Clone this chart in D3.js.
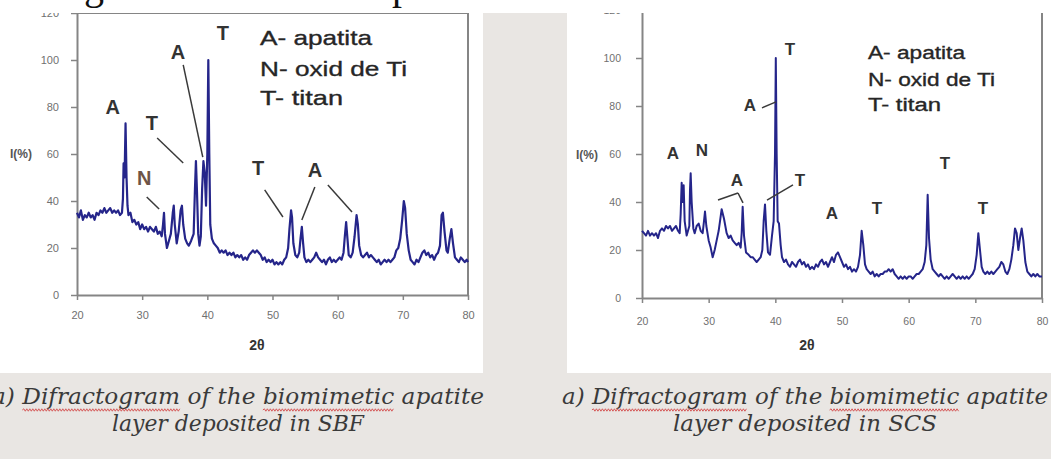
<!DOCTYPE html>
<html><head><meta charset="utf-8">
<script src="https://cdn.jsdelivr.net/npm/d3@7"></script>
<style>
body{margin:0;background:#e9e6e3;overflow:hidden}
svg{display:block}
</style></head>
<body><svg id="c" width="1051" height="459"></svg>
<script>
// ---------------- data ----------------
const xTicks = [20, 30, 40, 50, 60, 70, 80];
const yTicks = [0, 20, 40, 60, 80, 100, 120];
const legendLines = ["A- apatita", "N- oxid de Ti", "T- titan"];
const axisTitleX = "2θ";
const axisTitleY = "I(%)";

// [2θ, I(%)] – SBF sample
const sbfPoints = [
[20.0,35],[20.3,33],[20.6,36],[20.9,32],[21.2,34],[21.5,33],[21.8,35],[22.1,33],[22.4,34],[22.7,32],
[23.0,35],[23.3,34],[23.6,36],[23.9,35],[24.2,37],[24.5,35],[24.8,36],[25.1,37],[25.4,35],[25.7,36],
[26.0,35],[26.3,36],[26.6,34],[26.9,35],[27.05,41],[27.15,56],[27.3,50],[27.45,73],[27.6,50],[27.75,38],
[27.9,34],[28.2,35],[28.5,31],[28.8,32],[29.1,30],[29.4,31],[29.7,28],[30.0,30],[30.3,28],[30.6,29],
[30.9,27],[31.2,29],[31.5,28],[31.8,27],[32.1,29],[32.4,26],[32.7,27],[33.0,25],[33.2,30],[33.35,35],
[33.5,26],[33.8,20],[34.1,23],[34.4,26],[34.7,35],[34.85,38],[35.0,30],[35.3,22],[35.6,27],[35.9,36],
[36.1,38],[36.3,30],[36.6,24],[36.9,22],[37.15,21],[37.5,23],[37.9,26],[38.1,45],[38.25,57],[38.4,45],
[38.6,26],[38.8,21],[39.0,25],[39.2,45],[39.4,57],[39.6,52],[39.8,38],[40.0,60],[40.15,100],[40.3,60],
[40.45,30],[40.7,24],[41.0,22],[41.3,21],[41.6,20],[41.9,18],[42.2,19],[42.5,18],[42.8,19],[43.1,17],
[43.4,18],[43.7,17],[44.0,18],[44.3,16],[44.6,17],[44.9,16],[45.2,17],[45.5,15],[45.8,16],[46.1,15],
[46.4,17],[46.7,18],[47.0,19],[47.3,18],[47.6,19],[47.9,18],[48.2,17],[48.5,15],[48.8,16],[49.1,14],
[49.4,15],[49.7,14],[50.0,15],[50.3,13],[50.6,14],[50.9,13],[51.2,14],[51.5,13],[51.8,15],[52.1,16],
[52.4,20],[52.6,28],[52.85,36],[53.0,33],[53.2,22],[53.5,17],[53.8,16],[54.1,18],[54.3,24],[54.5,29],
[54.7,22],[54.9,16],[55.2,14],[55.5,15],[55.8,14],[56.1,15],[56.4,16],[56.7,18],[57.0,16],[57.3,15],
[57.6,14],[57.9,15],[58.2,13],[58.5,15],[58.8,16],[59.1,14],[59.4,15],[59.7,14],[60.0,15],[60.3,16],
[60.6,15],[60.9,18],[61.1,25],[61.3,31],[61.5,24],[61.7,17],[62.0,16],[62.3,18],[62.6,25],[62.9,34],
[63.1,30],[63.3,21],[63.6,17],[63.9,16],[64.2,17],[64.5,18],[64.8,16],[65.1,17],[65.4,16],[65.7,15],
[66.0,14],[66.3,15],[66.6,13],[66.9,14],[67.2,15],[67.5,14],[67.8,15],[68.1,14],[68.4,15],[68.7,16],
[69.0,19],[69.3,20],[69.6,24],[69.9,32],[70.15,40],[70.35,37],[70.6,26],[70.9,19],[71.2,15],[71.5,14],
[71.8,13],[72.1,15],[72.4,14],[72.7,16],[73.0,18],[73.3,19],[73.6,17],[73.9,18],[74.2,16],[74.5,17],
[74.8,15],[75.1,17],[75.4,18],[75.7,21],[75.95,34],[76.15,35],[76.4,27],[76.7,19],[76.9,18],[77.2,24],
[77.45,28],[77.7,22],[78.0,16],[78.3,15],[78.6,14],[78.9,16],[79.2,15],[79.5,14],[79.8,15],[80.0,14]
];

// [2θ, I(%)] – SCS sample
const scsPoints = [
[20.0,28],[20.3,27],[20.6,26],[20.9,28],[21.2,26],[21.5,27],[21.8,26],[22.1,27],[22.4,25],[22.7,28],
[23.0,29],[23.3,28],[23.6,30],[23.9,29],[24.2,30],[24.5,28],[24.8,29],[25.1,30],[25.4,28],[25.65,27],
[25.8,35],[25.95,48],[26.1,40],[26.25,47],[26.4,32],[26.7,26],[26.9,28],[27.1,30],[27.2,45],[27.3,52],
[27.45,40],[27.7,29],[27.9,27],[28.2,30],[28.5,31],[28.8,28],[29.1,27],[29.3,32],[29.45,36],[29.65,30],
[30.0,24],[30.3,21],[30.6,17],[30.9,20],[31.2,24],[31.5,28],[31.75,33],[31.95,37],[32.3,33],[32.7,27],
[33.0,25],[33.3,26],[33.6,24],[33.9,23],[34.2,22],[34.5,23],[34.8,21],[34.95,27],[35.1,38],[35.3,26],
[35.6,19],[36.0,18],[36.3,17],[36.6,17],[36.9,16],[37.2,15],[37.5,16],[37.8,17],[38.05,20],[38.25,32],
[38.45,39],[38.65,28],[38.9,19],[39.2,18],[39.5,26],[39.75,32],[39.95,60],[40.07,100],[40.2,60],[40.35,32],
[40.55,31],[40.8,22],[41.0,17],[41.3,15],[41.6,16],[41.9,14],[42.2,13],[42.5,15],[42.8,14],[43.1,13],
[43.4,15],[43.7,16],[44.0,14],[44.3,15],[44.6,13],[44.9,14],[45.2,12],[45.5,13],[45.8,12],[46.1,14],
[46.4,13],[46.7,15],[47.0,16],[47.3,14],[47.6,15],[47.9,13],[48.2,15],[48.5,17],[48.8,15],[49.1,18],
[49.4,19],[49.7,17],[50.0,15],[50.3,13],[50.6,14],[50.9,12],[51.2,13],[51.5,11],[51.8,12],[52.1,11],
[52.4,13],[52.7,18],[52.95,28],[53.2,22],[53.45,14],[53.7,12],[54.0,11],[54.3,10],[54.6,11],[54.9,9],
[55.2,10],[55.5,9],[55.8,10],[56.1,10],[56.4,11],[56.7,11],[57.0,12],[57.3,11],[57.6,12],[57.9,10],
[58.2,9],[58.5,8],[58.8,9],[59.1,8],[59.4,9],[59.7,8],[60.0,9],[60.3,9],[60.6,8],[60.9,9],
[61.2,10],[61.5,10],[61.8,11],[62.1,12],[62.4,15],[62.65,22],[62.85,43],[63.05,25],[63.3,16],[63.6,12],
[63.9,11],[64.2,10],[64.5,9],[64.8,10],[65.1,9],[65.4,8],[65.7,9],[66.0,8],[66.3,9],[66.6,10],
[66.9,9],[67.2,8],[67.5,9],[67.8,8],[68.1,9],[68.4,8],[68.7,9],[69.0,8],[69.3,9],[69.6,10],
[69.9,12],[70.2,18],[70.45,27],[70.7,20],[70.95,13],[71.2,11],[71.5,10],[71.8,11],[72.1,10],[72.4,11],
[72.7,10],[73.0,11],[73.3,12],[73.6,13],[73.9,15],[74.2,14],[74.5,11],[74.8,10],[75.1,12],[75.4,16],
[75.7,22],[75.95,29],[76.2,27],[76.45,20],[76.7,25],[76.95,29],[77.2,24],[77.5,15],[77.8,11],[78.1,10],
[78.4,9],[78.7,10],[79.0,9],[79.3,10],[79.6,9],[80.0,9]
];

// peak labels: [text, 2θ, I]
const sbfLabels = [["A",25.5,80],["N",30.3,49.8],["T",31.5,73.2],["A",35.5,103.4],["T",42.4,111.5],["T",47.8,54],["A",56.5,53.2]];
const scsLabels = [["T",42.2,103.75],["A",36.2,80.4],["A",24.65,60.4],["N",29.0,61.7],["A",34.25,49.2],["T",43.7,49.2],["A",48.5,35.4],["T",55.25,37.5],["T",65.45,56.25],["T",71.15,37.5]];
// leader lines: [2θ1, I1, 2θ2, I2]
const sbfLeaders = [[32.3,66.8,36.3,56.2],[30.7,41.7,32.6,36.6],[36.3,97.9,39.3,58.7],[48.8,44.7,51.6,33.2],[56.5,46,54.5,31.9],[58.5,46.8,62.2,35.3]];
const scsLeaders = [[38.0,79.2,40.1,81.7],[34.4,43.75,31.4,40.8],[34.4,43.75,35.15,39.6],[42.65,47.1,38.75,40.8]];

const sbfCaption = ["a) Difractogram of the biomimetic apatite", "layer deposited in SBF"];
const scsCaption = ["a) Difractogram of the biomimetic apatite", "layer deposited in SCS"];
const flaggedWords = ["Difractogram", "biomimetic"];
const headerFragments = [["g", 84], ["p", 392]];

// ---------------- drawing ----------------
const svg = d3.select("#c");
svg.append("rect").attr("x",0).attr("y",0).attr("width",1051).attr("height",459).attr("fill","#e9e6e3");
svg.append("rect").attr("x",0).attr("y",0).attr("width",1051).attr("height",13).attr("fill","#ffffff");
svg.selectAll("text.hdr").data(headerFragments).join("text")
  .attr("class","hdr").attr("x",d=>d[1]).attr("y",-1)
  .attr("font-family","'Liberation Serif', serif").attr("font-size",40).attr("fill","#111")
  .text(d=>d[0]);

const panels = [
  {pts:sbfPoints, labels:sbfLabels, leaders:sbfLeaders, caption:sbfCaption,
   box:[0,13,483,360], xr:[77,468], yr:[295,13], tickFont:11, xPad:11, yPad:12,
   ytX:32, ytY:154, ytFont:12, xtX:257, xtY:345,
   legX:260, legY:[37,68,97], legFont:21, legLen:[112,147,83], labFont:20,
   capCx:238, capLen:[492,252], lineW:2.2},
  {pts:scsPoints, labels:scsLabels, leaders:scsLeaders, caption:scsCaption,
   box:[567,13,484,360], xr:[642,1042], yr:[298,10], tickFont:10.5, xPad:15, yPad:15,
   ytX:598, ytY:155, ytFont:12, xtX:807, xtY:345,
   legX:868, legY:[53,80,105], legFont:18, legLen:[97,127,73], labFont:17,
   capCx:805, capLen:[486,264], lineW:2}
];

panels.forEach((p,i)=>{
  const [bx,by,bw,bh] = p.box;
  svg.append("defs").append("clipPath").attr("id","clip"+i)
    .append("rect").attr("x",bx).attr("y",by).attr("width",bw).attr("height",bh);
  svg.append("rect").attr("x",bx).attr("y",by).attr("width",bw).attr("height",bh).attr("fill","#ffffff");
  const g = svg.append("g").attr("clip-path",`url(#clip${i})`);
  const x = d3.scaleLinear().domain([20,80]).range(p.xr);
  const y = d3.scaleLinear().domain([0,120]).range(p.yr);

  const ax = g.append("g").attr("transform",`translate(0,${y(0)})`)
    .call(d3.axisBottom(x).tickValues(xTicks).tickSize(5).tickSizeOuter(0).tickPadding(p.xPad));
  const ay = g.append("g").attr("transform",`translate(${x(20)},0)`)
    .call(d3.axisLeft(y).tickValues(yTicks).tickSize(6).tickSizeOuter(0).tickPadding(p.yPad));
  [ax,ay].forEach(a=>{
    a.select(".domain").attr("stroke","#858585").attr("stroke-width",2);
    a.selectAll(".tick line").attr("stroke","#858585").attr("stroke-width",1.5);
    a.selectAll(".tick text").attr("fill","#707070").attr("font-size",p.tickFont)
      .attr("font-family","'Liberation Sans', Arial, sans-serif");
  });
  // frame right & top
  g.append("line").attr("x1",x(80)).attr("x2",x(80)).attr("y1",y(0)).attr("y2",y(120))
    .attr("stroke","#858585").attr("stroke-width",2);
  g.append("line").attr("x1",x(20)).attr("x2",x(80)).attr("y1",y(120)).attr("y2",y(120))
    .attr("stroke","#858585").attr("stroke-width",2);

  // data line
  g.append("path").datum(p.pts)
    .attr("d", d3.line().x(d=>x(d[0])).y(d=>y(d[1])))
    .attr("fill","none").attr("stroke","#25258a").attr("stroke-width",p.lineW)
    .attr("stroke-linejoin","round");

  // leaders
  g.selectAll("line.ld").data(p.leaders).join("line").attr("class","ld")
    .attr("x1",d=>x(d[0])).attr("y1",d=>y(d[1])).attr("x2",d=>x(d[2])).attr("y2",d=>y(d[3]))
    .attr("stroke","#3a3a3a").attr("stroke-width",1.5);

  // peak labels
  g.selectAll("text.pk").data(p.labels).join("text").attr("class","pk")
    .attr("x",d=>x(d[1])).attr("y",d=>y(d[2])).attr("dy","0.36em")
    .attr("text-anchor","middle").attr("font-family","'Liberation Sans', Arial, sans-serif")
    .attr("font-weight","bold").attr("font-size",p.labFont)
    .attr("fill",d=>(i===0 && d[0]==="N") ? "#6e5446" : "#333333")
    .text(d=>d[0]);

  // legend
  g.selectAll("text.lg").data(legendLines).join("text").attr("class","lg")
    .attr("x",p.legX).attr("y",(d,k)=>p.legY[k]).attr("dy","0.36em")
    .attr("font-family","'Liberation Sans', Arial, sans-serif").attr("font-size",p.legFont)
    .attr("fill","#262626").attr("stroke","#262626").attr("stroke-width",0.35)
    .attr("textLength",(d,k)=>p.legLen[k]).attr("lengthAdjust","spacingAndGlyphs")
    .text(d=>d);

  // axis titles
  g.append("text").attr("x",p.ytX).attr("y",p.ytY).attr("dy","0.36em").attr("text-anchor","end")
    .attr("font-family","'Liberation Sans', Arial, sans-serif").attr("font-weight","bold")
    .attr("font-size",p.ytFont).attr("fill","#555").text(axisTitleY);
  g.append("text").attr("x",p.xtX).attr("y",p.xtY).attr("dy","0.36em").attr("text-anchor","middle")
    .attr("font-family","'Liberation Sans', Arial, sans-serif").attr("font-weight","bold")
    .attr("font-size",14).attr("fill","#333").text(axisTitleX);

  // captions
  const capY = [404, 431];
  p.caption.forEach((line,k)=>{
    const t = svg.append("text").attr("x",p.capCx).attr("y",capY[k]).attr("text-anchor","middle")
      .attr("font-family","'DejaVu Serif', 'Liberation Serif', serif").attr("font-style","italic")
      .attr("font-size",23).attr("fill","#3a3a3a")
      .attr("textLength",p.capLen[k]).attr("lengthAdjust","spacingAndGlyphs")
      .text(line);
    const node = t.node();
    flaggedWords.forEach(w=>{
      const idx = line.indexOf(w);
      if (idx < 0) return;
      const x0 = node.getStartPositionOfChar(idx).x;
      const x1 = node.getEndPositionOfChar(idx + w.length - 1).x;
      const yb = capY[k] + 6;
      let dpath = `M${x0},${yb}`;
      let up = true;
      for (let xx = x0 + 1.5; xx <= x1; xx += 1.5) { dpath += `L${xx},${yb + (up ? -1.2 : 1.2)}`; up = !up; }
      svg.append("path").attr("d",dpath).attr("fill","none").attr("stroke","#d24a4a").attr("stroke-width",0.9);
    });
  });
});
</script>
</body></html>
